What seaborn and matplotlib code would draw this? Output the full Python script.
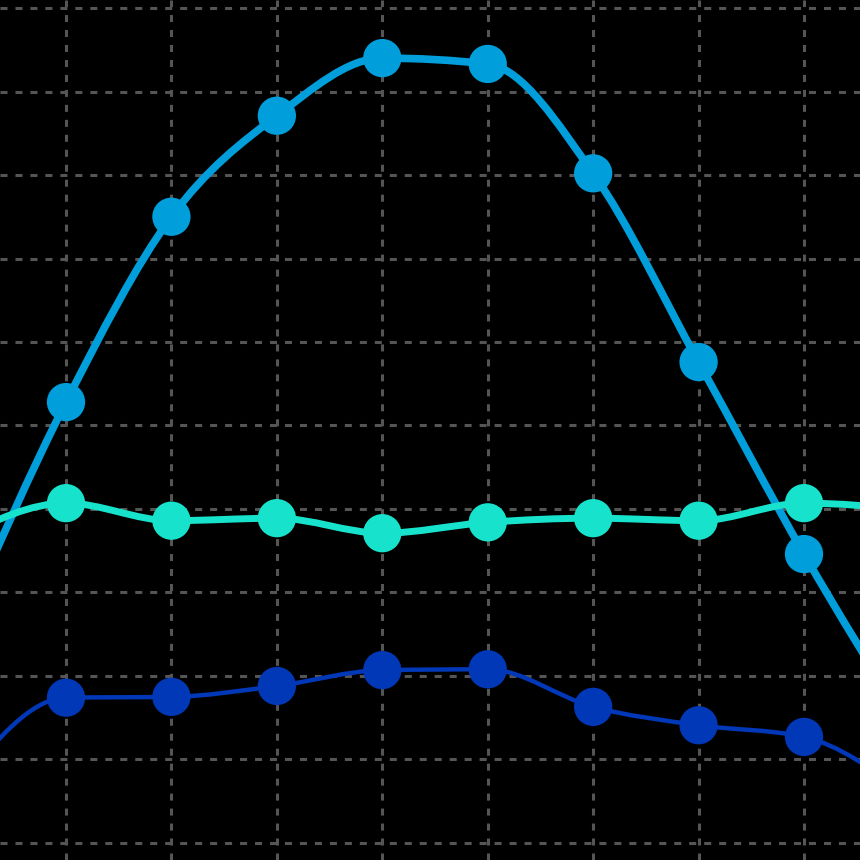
import numpy as np
import pandas as pd
import matplotlib
matplotlib.use("Agg")
import matplotlib.pyplot as plt
from matplotlib.path import Path
from matplotlib.patches import PathPatch
import seaborn as sns

# data (x = position index, first and last points lie outside the view)
x_pos = [0, 1, 2, 3, 4, 5, 6, 7, 8, 9]
series_top = [2.53, 5.28, 7.50, 8.71, 9.40, 9.33, 8.02, 5.76, 3.46, 1.37]
series_mid = [3.66, 4.07, 3.86, 3.89, 3.71, 3.84, 3.89, 3.86, 4.07, 3.99]
series_low = [0.71, 1.74, 1.75, 1.88, 2.07, 2.08, 1.63, 1.41, 1.27, 0.56]

colors = {"top": "#009fdb", "mid": "#17e3cc", "low": "#0038b8"}
widths = {"top": 5.5, "mid": 5.0, "low": 3.2}

df = pd.DataFrame({"x": x_pos * 3,
                   "y": series_top + series_mid + series_low,
                   "series": ["top"] * 10 + ["mid"] * 10 + ["low"] * 10})


def monotone_path(xs, ys):
    # monotone cubic (like d3 curveMonotoneX) as bezier path
    xs = np.asarray(xs, float)
    ys = np.asarray(ys, float)
    n = len(xs)
    h = np.diff(xs)
    s = np.diff(ys) / h
    t = np.zeros(n)
    for i in range(1, n - 1):
        p = (s[i - 1] * h[i] + s[i] * h[i - 1]) / (h[i - 1] + h[i])
        t[i] = (np.sign(s[i - 1]) + np.sign(s[i])) * min(abs(s[i - 1]), abs(s[i]), 0.5 * abs(p))
    t[0] = (3 * s[0] - t[1]) / 2
    t[-1] = (3 * s[-1] - t[-2]) / 2
    verts = [(xs[0], ys[0])]
    codes = [Path.MOVETO]
    for i in range(n - 1):
        dx = (xs[i + 1] - xs[i]) / 3
        verts += [(xs[i] + dx, ys[i] + dx * t[i]),
                  (xs[i + 1] - dx, ys[i + 1] - dx * t[i + 1]),
                  (xs[i + 1], ys[i + 1])]
        codes += [Path.CURVE4] * 3
    return Path(verts, codes)


sns.set_style("dark", {"axes.facecolor": "black", "figure.facecolor": "black"})

fig = plt.figure(figsize=(8.6, 8.6), dpi=100)
ax = fig.add_axes([0, 0, 1, 1])

for name in ["top", "mid", "low"]:
    sub = df[df["series"] == name]
    ax.add_patch(PathPatch(monotone_path(sub["x"], sub["y"]), facecolor="none",
                           edgecolor=colors[name], lw=widths[name], zorder=3,
                           capstyle="round", joinstyle="round"))

sns.scatterplot(data=df, x="x", y="y", hue="series", palette=colors, s=760,
                linewidth=0, legend=False, ax=ax, zorder=4)

ax.set_xlim(0.374, 8.531)
ax.set_ylim(-0.204, 10.096)
ax.set_xticks(range(1, 9))
ax.set_yticks(range(0, 11))
ax.tick_params(length=0, labelbottom=False, labelleft=False)
ax.set_xlabel("")
ax.set_ylabel("")
ax.grid(True, color="#555555", lw=2.2, ls=(0, (2.3, 2.6)), zorder=0)
ax.set_axisbelow(True)
for sp in ax.spines.values():
    sp.set_visible(False)

fig.savefig("out.png", dpi=100, facecolor="black")
